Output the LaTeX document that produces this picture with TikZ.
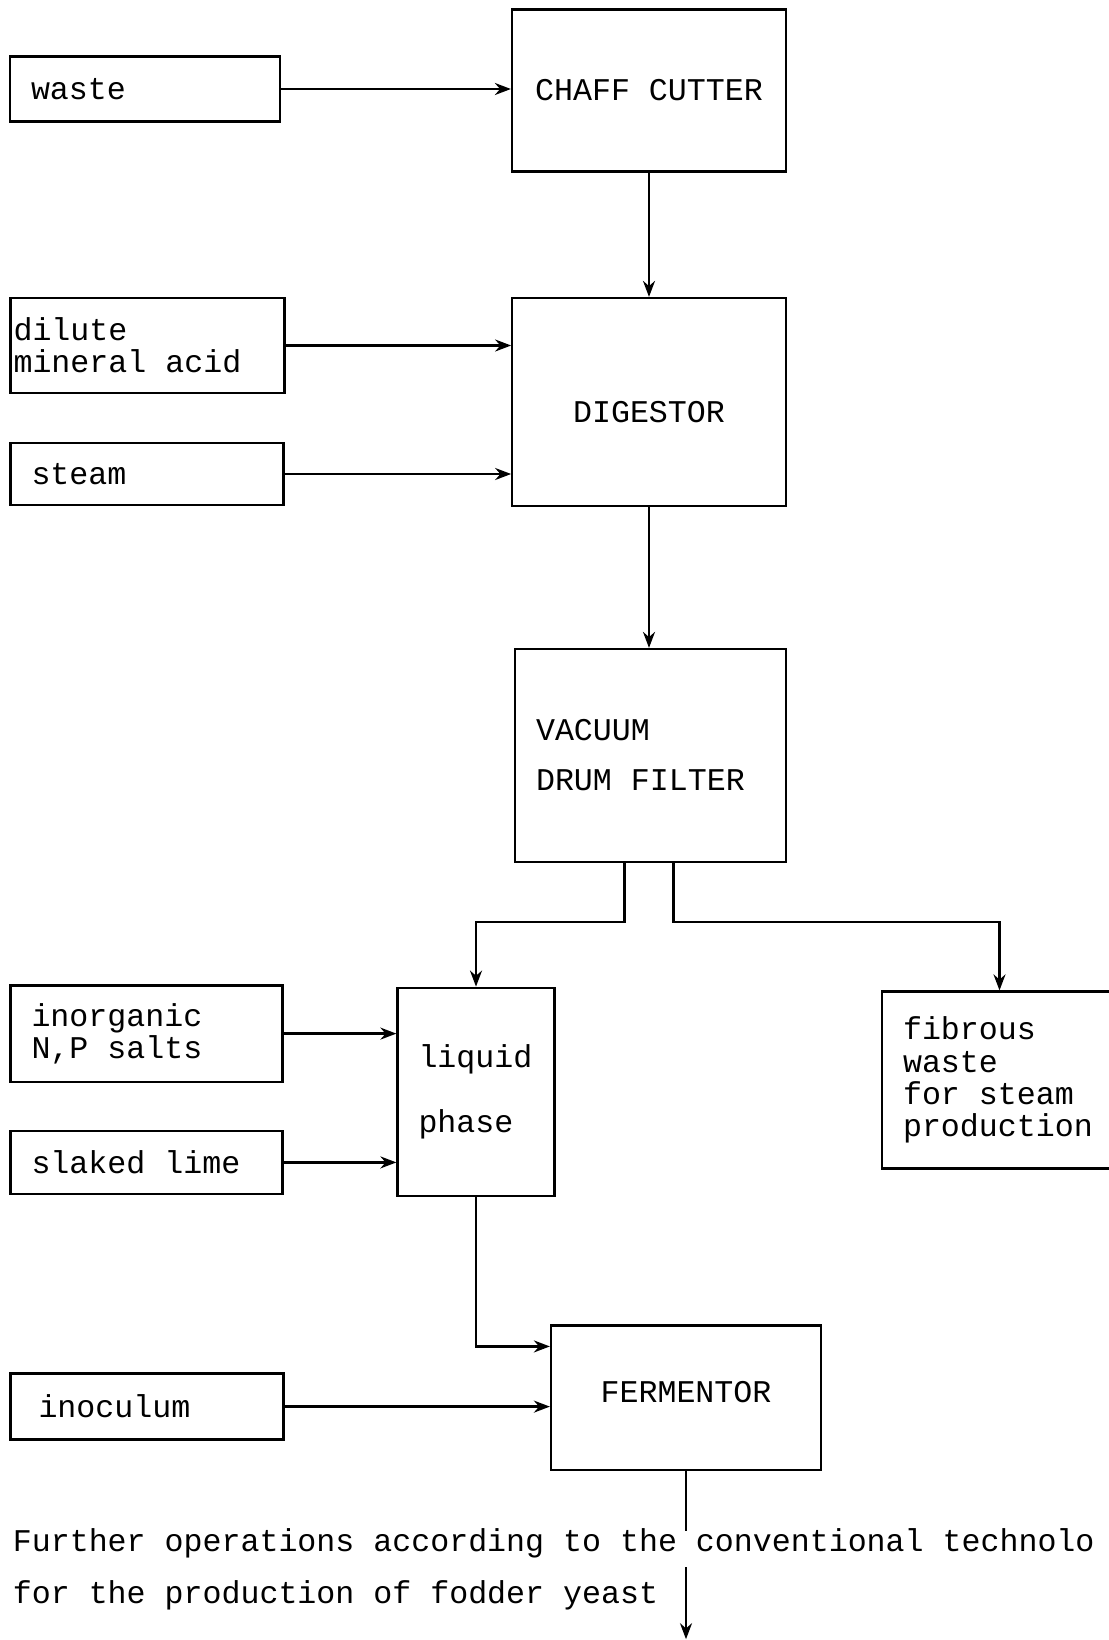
\documentclass[tikz,border=0pt]{standalone}
\usepackage{fontspec}
\setmonofont{Liberation Mono}
\usetikzlibrary{arrows.meta, positioning, calc}
\newcommand{\boxfont}{\fontsize{18}{18.4}\selectfont\ttfamily}
\tikzset{
  unitbox/.style={
    draw, line width=1.3pt, align=center, inner sep=0pt,
    font=\boxfont
  },
  feedbox/.style={
    draw, line width=1.3pt, align=flush left, inner xsep=0.42cm,
    inner ysep=0pt, font=\boxfont
  },
  flowarrow/.style={
    -{Stealth[length=3.2mm, width=2.4mm]}, line width=1.3pt
  },
  flowline/.style={line width=1.3pt},
}

\begin{document}
\begin{tikzpicture}[x=0.02cm, y=-0.02cm]
  \useasboundingbox (0,0) rectangle (1109,1640);
  \clip (0,0) rectangle (1109,1640);

  % Main units
  \node[unitbox, minimum width=5.48cm, minimum height=3.24cm] (chaff) at (649,90.5) {CHAFF CUTTER};
  \node[unitbox, minimum width=5.47cm, minimum height=4.16cm, text height=0.84cm] (digestor) at (649,402) {DIGESTOR};
  \node[feedbox, text width=4.58cm, minimum height=4.26cm] (vacuum) at (650.5,755.5) {VACUUM\\[10pt]DRUM FILTER};
  \node[feedbox, text width=2.30cm, minimum height=4.16cm] (liquid) at (476,1091.7) {liquid\\[18.4pt]phase};
  \node[feedbox, text width=3.86cm, minimum height=3.54cm] (fibrous) at (999.5,1080) {fibrous\\waste\\for steam\\production};
  \node[unitbox, minimum width=5.4cm, minimum height=2.89cm, text depth=0.25cm] (fermentor) at (686,1397.8) {FERMENTOR};

  % Feeds
  \node[feedbox, text width=4.56cm, minimum height=1.3cm] (waste) at (145,89) {waste};
  \node[feedbox, inner xsep=0.06cm, text width=5.36cm, minimum height=1.9cm] (acid) at (147.5,345.5) {dilute\\mineral acid};
  \node[feedbox, text width=4.62cm, minimum height=1.25cm] (steam) at (147,474) {steam};
  \node[feedbox, text width=4.6cm, minimum height=1.93cm] (salts) at (146.5,1033.6) {inorganic\\N,P salts};
  \node[feedbox, text width=4.6cm, minimum height=1.25cm] (lime) at (146.5,1162.4) {slaked lime};
  \node[feedbox, inner xsep=0.56cm, text width=4.34cm, minimum height=1.32cm] (inoculum) at (147,1406.6) {inoculum};

  % Closing note
  \node[font=\boxfont, align=left, anchor=base west, inner sep=0pt] (further) at (12.5,1603)
    {Further operations according to the conventional technolo\\[11pt]for the production of fodder yeast};

  % Flows
  \draw[flowarrow] (waste.east) -- (waste.east -| chaff.west);
  \draw[flowarrow] (chaff.south) -- (digestor.north);
  \draw[flowarrow] (acid.east) -- (acid.east -| digestor.west);
  \draw[flowarrow] (steam.east) -- (steam.east -| digestor.west);
  \draw[flowarrow] (digestor.south) -- (digestor.south |- vacuum.north);
  \draw[flowarrow] ($(vacuum.south)+(-26,0)$) -- ++(0,59) -| (liquid.north);
  \draw[flowarrow] ($(vacuum.south)+(23,0)$) -- ++(0,59) -| (fibrous.north);
  \draw[flowarrow] (salts.east) -- (salts.east -| liquid.west);
  \draw[flowarrow] (lime.east) -- (lime.east -| liquid.west);
  \draw[flowarrow] (liquid.south) |- ($(fermentor.north west)+(0,22)$);
  \draw[flowarrow] (inoculum.east) -- (inoculum.east -| fermentor.west);

  \coordinate (outTop) at ($(fermentor.south)+(0,60)$);
  \coordinate (outBot) at ($(fermentor.south)+(0,96)$);
  \coordinate (outEnd) at ($(fermentor.south)+(0,168)$);
  \draw[flowline] (fermentor.south) -- (outTop);
  \draw[flowarrow] (outBot) -- (outEnd);
\end{tikzpicture}
\end{document}
